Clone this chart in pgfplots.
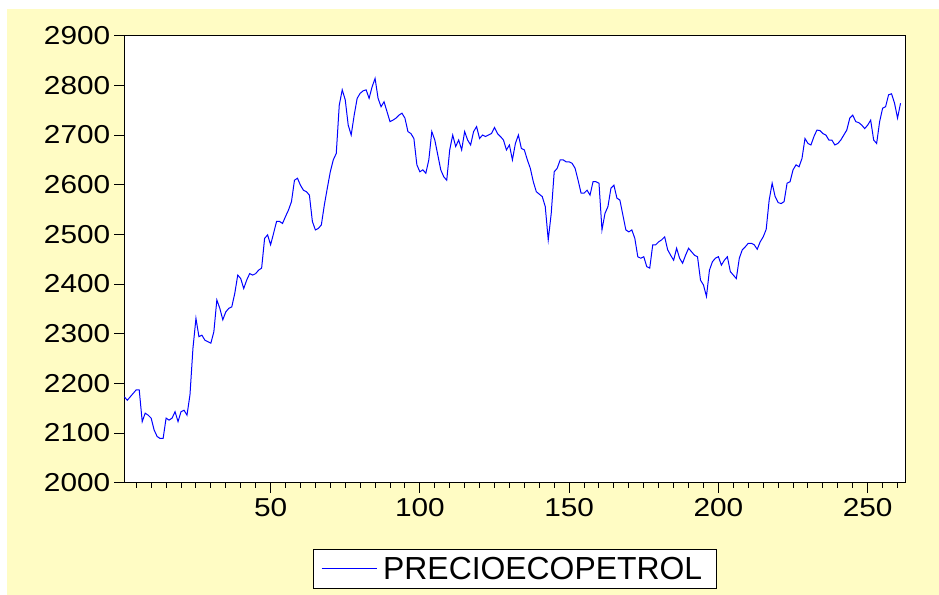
\documentclass[border=0pt]{standalone}
\usepackage{fontspec}
\setmainfont{Liberation Sans}
\usepackage{pgfplots}
\pgfplotsset{compat=1.18}
\definecolor{evyellow}{RGB}{255,252,196}
\definecolor{evblue}{RGB}{0,0,255}
\begin{document}
\begin{tikzpicture}
% page background (white strip at left/top, yellow panel)
\fill[white] (-124.3bp,-112.3bp) rectangle (814.7bp,482.7bp);
\fill[evyellow] (-117bp,-112.3bp) rectangle (814.7bp,473.5bp);
\begin{axis}[
    scale only axis,
    width=780.7bp, height=447bp,
    xmin=1, xmax=262.5,
    ymin=2000, ymax=2900,
    axis background/.style={fill=white},
    axis line style={black, line width=1bp},
    xtick={50,100,150,200,250},
    minor xtick={5,10,...,260},
    ytick={2000,2100,...,2900},
    tick align=outside,
    xtick pos=left, ytick pos=left,
    major tick length=10bp, minor tick length=5bp,
    tick style={black, line width=1bp},
    tick label style={font=\fontsize{26}{26}\selectfont, xscale=1.15},
    /pgf/number format/assume math mode=true,
    /pgf/number format/set thousands separator={},
    xticklabel style={yshift=-2bp},
    legend style={at={(0.5,-0.193)}, anchor=center, draw=black, line width=1bp,
        font=\fontsize{32}{32}\selectfont, inner xsep=8bp, inner ysep=6bp,
        nodes={inner xsep=6bp}},
    legend image code/.code={\draw[#1] (0bp,0bp) -- (55bp,0bp);},
]
\addplot[evblue, line width=1bp] coordinates {
(1,2173) (2,2166) (3,2173) (4,2180) (5,2187) (6,2187) (7,2123) (8,2140) (9,2136) (10,2130)
(11,2106) (12,2093) (13,2089) (14,2089) (15,2130) (16,2126) (17,2130) (18,2143) (19,2123) (20,2143)
(21,2146) (22,2136) (23,2177) (24,2271) (25,2331) (26,2294) (27,2297) (28,2287) (29,2284) (30,2281)
(31,2304) (32,2368) (33,2351) (34,2328) (35,2344) (36,2351) (37,2354) (38,2381) (39,2418) (40,2411)
(41,2391) (42,2408) (43,2421) (44,2418) (45,2421) (46,2428) (47,2432) (48,2492) (49,2499) (50,2479)
(51,2502) (52,2526) (53,2526) (54,2522) (55,2536) (56,2549) (57,2566) (58,2609) (59,2613) (60,2599)
(61,2589) (62,2586) (63,2579) (64,2526) (65,2509) (66,2512) (67,2519) (68,2559) (69,2593) (70,2626)
(71,2650) (72,2663) (73,2760) (74,2791) (75,2771) (76,2720) (77,2700) (78,2740) (79,2774) (80,2784)
(81,2789) (82,2791) (83,2774) (84,2797) (85,2814) (86,2774) (87,2757) (88,2767) (89,2747) (90,2727)
(91,2730) (92,2734) (93,2740) (94,2744) (95,2734) (96,2707) (97,2703) (98,2693) (99,2640) (100,2626)
(101,2630) (102,2623) (103,2650) (104,2707) (105,2690) (106,2660) (107,2630) (108,2616) (109,2609) (110,2670)
(111,2700) (112,2677) (113,2690) (114,2670) (115,2707) (116,2690) (117,2680) (118,2707) (119,2717) (120,2693)
(121,2700) (122,2697) (123,2700) (124,2703) (125,2715) (126,2703) (127,2697) (128,2690) (129,2670) (130,2680)
(131,2650) (132,2683) (133,2700) (134,2673) (135,2670) (136,2650) (137,2633) (138,2606) (139,2586) (140,2581)
(141,2576) (142,2556) (143,2489) (144,2542) (145,2626) (146,2633) (147,2650) (148,2650) (149,2646) (150,2646)
(151,2643) (152,2633) (153,2609) (154,2583) (155,2583) (156,2589) (157,2579) (158,2606) (159,2606) (160,2603)
(161,2509) (162,2542) (163,2556) (164,2593) (165,2599) (166,2573) (167,2569) (168,2539) (169,2509) (170,2505)
(171,2509) (172,2492) (173,2455) (174,2452) (175,2455) (176,2435) (177,2432) (178,2479) (179,2479) (180,2485)
(181,2489) (182,2495) (183,2469) (184,2458) (185,2448) (186,2472) (187,2452) (188,2442) (189,2458) (190,2472)
(191,2465) (192,2458) (193,2455) (194,2408) (195,2398) (196,2375) (197,2428) (198,2445) (199,2452) (200,2455)
(201,2438) (202,2448) (203,2455) (204,2425) (205,2418) (206,2411) (207,2452) (208,2469) (209,2475) (210,2482)
(211,2482) (212,2479) (213,2470) (214,2485) (215,2495) (216,2510) (217,2569) (218,2603) (219,2576) (220,2564)
(221,2562) (222,2566) (223,2603) (224,2606) (225,2630) (226,2640) (227,2636) (228,2653) (229,2693) (230,2683)
(231,2680) (232,2697) (233,2710) (234,2709) (235,2703) (236,2700) (237,2690) (238,2690) (239,2680) (240,2683)
(241,2690) (242,2700) (243,2710) (244,2734) (245,2740) (246,2727) (247,2725) (248,2720) (249,2713) (250,2720)
(251,2730) (252,2690) (253,2683) (254,2727) (255,2754) (256,2757) (257,2781) (258,2783) (259,2764) (260,2734)
(261,2764)
};
\addlegendentry{PRECIOECOPETROL}
\end{axis}
\end{tikzpicture}
\end{document}
